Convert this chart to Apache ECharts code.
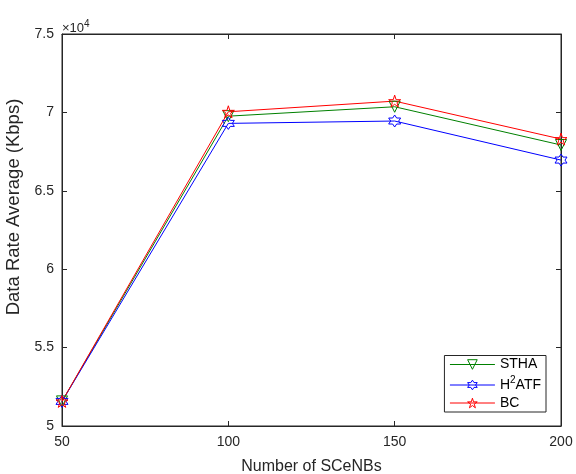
<!DOCTYPE html>
<html>
<head>
<meta charset="utf-8">
<script src="https://cdn.jsdelivr.net/npm/echarts@6/dist/echarts.min.js"></script>
<style>
  body { margin: 0; background: #fff; }
  #main { width: 576px; height: 474px; }
</style>
</head>
<body>
<div id="main"></div>
<script>
// Data (Kbps)
var scenbs = [50, 100, 150, 200];
var sthaRate = [51570, 69760, 70360, 67920];
var h2atfRate = [51570, 69300, 69450, 66960];
var bcRate = [51570, 70040, 70720, 68300];
var yTicks = [50000, 55000, 60000, 65000, 70000, 75000];

var seriesNames = ['STHA', 'H2ATF', 'BC'];
var seriesColors = ['#008000', '#0000ff', '#ff0000'];

// build a star outline as an svg path (n points)
function starPath(n, inner) {
  var pts = [];
  for (var i = 0; i < 2 * n; i++) {
    var r = i % 2 === 0 ? 1 : inner;
    var a = -Math.PI / 2 + i * Math.PI / n;
    pts.push((50 + 50 * r * Math.cos(a)).toFixed(2) + ' ' + (50 + 50 * r * Math.sin(a)).toFixed(2));
  }
  return 'path://M' + pts.join(' L') + ' Z';
}

var symbols = ['triangle', starPath(6, 0.577), starPath(5, 0.382)];
var sizes = [11, 12, 12];
var rotates = [180, 0, 0];
var datasets = [sthaRate, h2atfRate, bcRate];

var axisColor = '#262626';
var font = 'Liberation Sans, Arial, sans-serif';

var chart = echarts.init(document.getElementById('main'));

var series = seriesNames.map(function (name, i) {
  return {
    name: name,
    type: 'line',
    data: scenbs.map(function (x, j) { return [x, datasets[i][j]]; }),
    symbol: symbols[i],
    symbolSize: sizes[i],
    symbolRotate: rotates[i],
    showAllSymbol: true,
    animation: false,
    lineStyle: { color: seriesColors[i], width: 1 },
    itemStyle: { color: 'none', borderColor: seriesColors[i], borderWidth: 1 }
  };
});

chart.setOption({
  backgroundColor: '#fff',
  animation: false,
  textStyle: { fontFamily: font },
  grid: { left: 62, right: 15, top: 34, bottom: 48, show: true, borderColor: axisColor, borderWidth: 1, outerBoundsMode: 'none' },
  graphic: [{
    type: 'text',
    left: 62,
    top: 19,
    style: {
      text: '×10{sup|4}',
      fontFamily: font,
      fontSize: 13,
      fill: axisColor,
      rich: { sup: { fontSize: 10, padding: [0, 0, 9, 0], fill: axisColor } }
    }
  }],
  xAxis: [{
    type: 'value',
    min: 50,
    max: 200,
    interval: 50,
    name: 'Number of SCeNBs',
    nameLocation: 'middle',
    nameGap: 33,
    nameTextStyle: { fontSize: 16, color: axisColor, fontFamily: font },
    axisLine: { onZero: false, lineStyle: { color: axisColor } },
    axisTick: { inside: true, length: 5, lineStyle: { color: axisColor } },
    axisLabel: { fontSize: 14, color: axisColor, margin: 9, fontFamily: font },
    splitLine: { show: false }
  }, {
    type: 'value',
    position: 'top',
    min: 50,
    max: 200,
    interval: 50,
    axisLine: { onZero: false, lineStyle: { color: axisColor } },
    axisTick: { inside: true, length: 5, lineStyle: { color: axisColor } },
    axisLabel: { show: false },
    splitLine: { show: false }
  }],
  yAxis: [{
    type: 'value',
    min: yTicks[0],
    max: yTicks[yTicks.length - 1],
    interval: 5000,
    name: 'Data Rate Average (Kbps)',
    nameLocation: 'middle',
    nameGap: 25,
    nameTextStyle: { fontSize: 18.5, color: axisColor, fontFamily: font, padding: [0, 0, 0, 46] },
    axisLine: { show: true, onZero: false, lineStyle: { color: axisColor } },
    axisTick: { show: true, inside: true, length: 5, lineStyle: { color: axisColor } },
    axisLabel: {
      fontSize: 14, color: axisColor, margin: 8, fontFamily: font,
      formatter: function (v) { return String(v / 10000); }
    },
    splitLine: { show: false }
  }, {
    type: 'value',
    position: 'right',
    min: yTicks[0],
    max: yTicks[yTicks.length - 1],
    interval: 5000,
    axisLine: { show: true, onZero: false, lineStyle: { color: axisColor } },
    axisTick: { show: true, inside: true, length: 5, lineStyle: { color: axisColor } },
    axisLabel: { show: false },
    splitLine: { show: false }
  }],
  legend: {
    data: seriesNames,
    orient: 'vertical',
    right: 30,
    bottom: 62,
    itemWidth: 45,
    itemHeight: 12,
    itemGap: 4,
    padding: [2, 5, 2, 5],
    borderColor: axisColor,
    borderWidth: 1,
    backgroundColor: '#fff',
    lineStyle: { width: 1 },
    itemStyle: { color: 'rgba(0,0,0,0)', borderWidth: 1 },
    textStyle: {
      fontSize: 14,
      color: '#000',
      fontFamily: font,
      rich: { sup: { fontSize: 10, padding: [0, 0, 9, 0], color: '#000' } }
    },
    formatter: function (name) {
      return name === 'H2ATF' ? 'H{sup|2}ATF' : name;
    }
  },
  series: series
});
</script>
</body>
</html>
